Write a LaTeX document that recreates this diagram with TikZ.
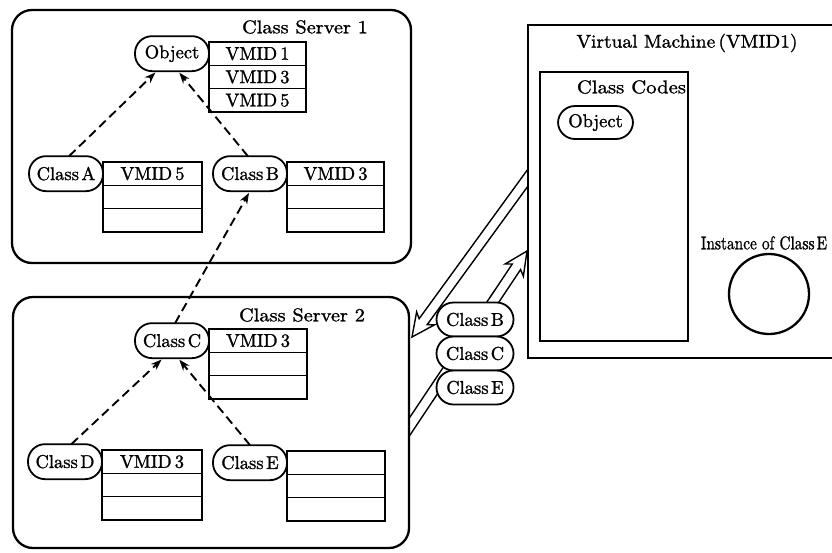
\documentclass[tikz,border=0pt]{standalone}
\usepackage{graphicx}
\usetikzlibrary{calc,arrows.meta}

% slightly heavier roman face for all labels
\font\dgm="[lmroman10-regular]:embolden=1.2" at 18.5pt

\tikzset{
  every node/.style={font=\dgm, outer sep=0pt},
  server/.style={draw, line width=2.3pt, rounded corners=20pt, inner sep=0pt},
  pill/.style={draw, fill=white, line width=1.8pt, rounded corners=17pt,
    minimum width=74pt, minimum height=35pt, inner sep=0pt},
  cell/.style={draw, line width=1.3pt, minimum height=23.3pt, inner sep=0pt},
  inherit/.style={-{Stealth[length=11pt,width=8pt]}, line width=1.9pt,
    dash pattern=on 9pt off 5pt, shorten >=2pt},
  frame/.style={draw, line width=1.6pt, inner sep=0pt},
  title/.style={inner sep=0pt},
  hollow/.style={line width=1.4pt, line join=miter},
}

% three-row VMID table: name, top-left corner, width, row texts
\newcommand\vmtable[6]{%
  \node[cell, minimum width=#3, anchor=north west] (#1-1) at #2 {#4};
  \node[cell, minimum width=#3, anchor=north] (#1-2) at (#1-1.south) {#5};
  \node[cell, minimum width=#3, anchor=north] (#1-3) at (#1-2.south) {#6};
}

% open double-lined transfer arrow from #1 (tail) to #2 (tip)
\newcommand\hollowarrow[2]{%
  \coordinate (ha-t) at ($(#2)!1.1!(#1)$);
  \coordinate (ha-w) at ($(#2)!23pt!(#1)$);
  \coordinate (ha-j) at ($(#2)!19pt!(#1)$);
  \draw[hollow] ($(ha-t)!5pt!90:(#2)$) -- ($(ha-j)!5pt!90:(#2)$)
    -- ($(ha-w)!11pt!90:(#2)$) -- (#2)
    -- ($(ha-w)!11pt!-90:(#2)$) -- ($(ha-j)!5pt!-90:(#2)$)
    -- ($(ha-t)!5pt!-90:(#2)$);
}

\begin{document}
\begin{tikzpicture}[x=1pt, y=-1pt]
\clip (0,0) rectangle (832,552);
\fill[white] (0,0) rectangle (832,552);

% ---- transfer arrows between the servers and the virtual machine
\coordinate (h1tail) at (528,177.5);
\coordinate (h1tip) at (412,337);
\coordinate (h2tail) at (409,427.5);
\coordinate (h2tip) at (527,251);
\begin{scope}
  \clip (409,0) rectangle (528,552);
  \hollowarrow{h1tail}{h1tip}
  \hollowarrow{h2tail}{h2tip}
\end{scope}

% ---- Class Server 1
\node[server, minimum width=399pt, minimum height=253pt, anchor=north west] (srv1) at (12,10) {};
\node[title] (srv1title) at (305,27) {\scalebox{1.1}[1]{Class Server 1}};

\vmtable{objt}{(209,42)}{97pt}{VMID\,1}{VMID\,3}{VMID\,5}
\node[pill, anchor=east] (obj) at (objt-1.west) {Object};

\vmtable{at}{(103,162)}{99pt}{VMID\,5}{}{}
\node[pill, anchor=east] (a) at (at-1.west) {Class\kern2.5pt A};

\vmtable{bt}{(287,162)}{97pt}{VMID\,3}{}{}
\node[pill, anchor=east] (b) at (bt-1.west) {Class\kern2.5pt B};

% ---- Class Server 2
\node[server, minimum width=396pt, minimum height=251pt, anchor=north west] (srv2) at (13,297) {};
\node[title] (srv2title) at (302,315) {\scalebox{1.1}[1]{Class Server 2}};

\vmtable{ct}{(209,329)}{98pt}{VMID\,3}{}{}
\node[pill, anchor=east] (c) at (ct-1.west) {Class\kern2.5pt C};

\vmtable{dt}{(102,450)}{100pt}{VMID\,3}{}{}
\node[pill, anchor=east] (d) at (dt-1.west) {Class\kern2.5pt D};

\vmtable{et}{(287,451)}{98pt}{}{}{}
\node[pill, anchor=east] (e) at (et-1.west) {Class\kern2.5pt E};

% ---- inheritance links
\draw[inherit] (a.80) -- (obj.229);
\draw[inherit] (b.97) -- (obj.289);
\draw[inherit] (c.80) -- (b.south);
\draw[inherit] (d.70) -- (c.243);
\draw[inherit] (e.north) -- (c.289);

% ---- classes in transit
\node[pill, minimum width=77pt, minimum height=34pt] (mb) at (475,319.5) {Class\kern2.5pt B};
\node[pill, minimum width=77pt, minimum height=34pt, anchor=north] (mc) at (mb.south) {Class\kern2.5pt C};
\node[pill, minimum width=77pt, minimum height=34pt, anchor=north] (me) at (mc.south) {Class\kern2.5pt E};

% ---- Virtual machine
\node[frame, minimum width=330pt, minimum height=333pt, anchor=north west] (vm) at (528,25) {};
\node[title] (vmtitle) at (687,43) {\scalebox{1.05}[1]{Virtual Machine\,(VMID1)}};

\node[frame, line width=1.4pt, minimum width=148pt, minimum height=269pt, anchor=north west] (codes) at (540,72) {};
\node[title, anchor=east] (codestitle) at (686,87) {\scalebox{1.12}[1]{Class Codes}};
\node[pill, minimum width=75pt, minimum height=33pt] (vmobj) at (595.5,122.5) {Object};

\node[title] (instlabel) at (764,243) {\scalebox{0.83}[1]{Instance of Class\kern2.5pt E}};
\node[draw, circle, line width=2.3pt, minimum size=80pt, inner sep=0pt] (inst) at (769,294) {};
\end{tikzpicture}
\end{document}
